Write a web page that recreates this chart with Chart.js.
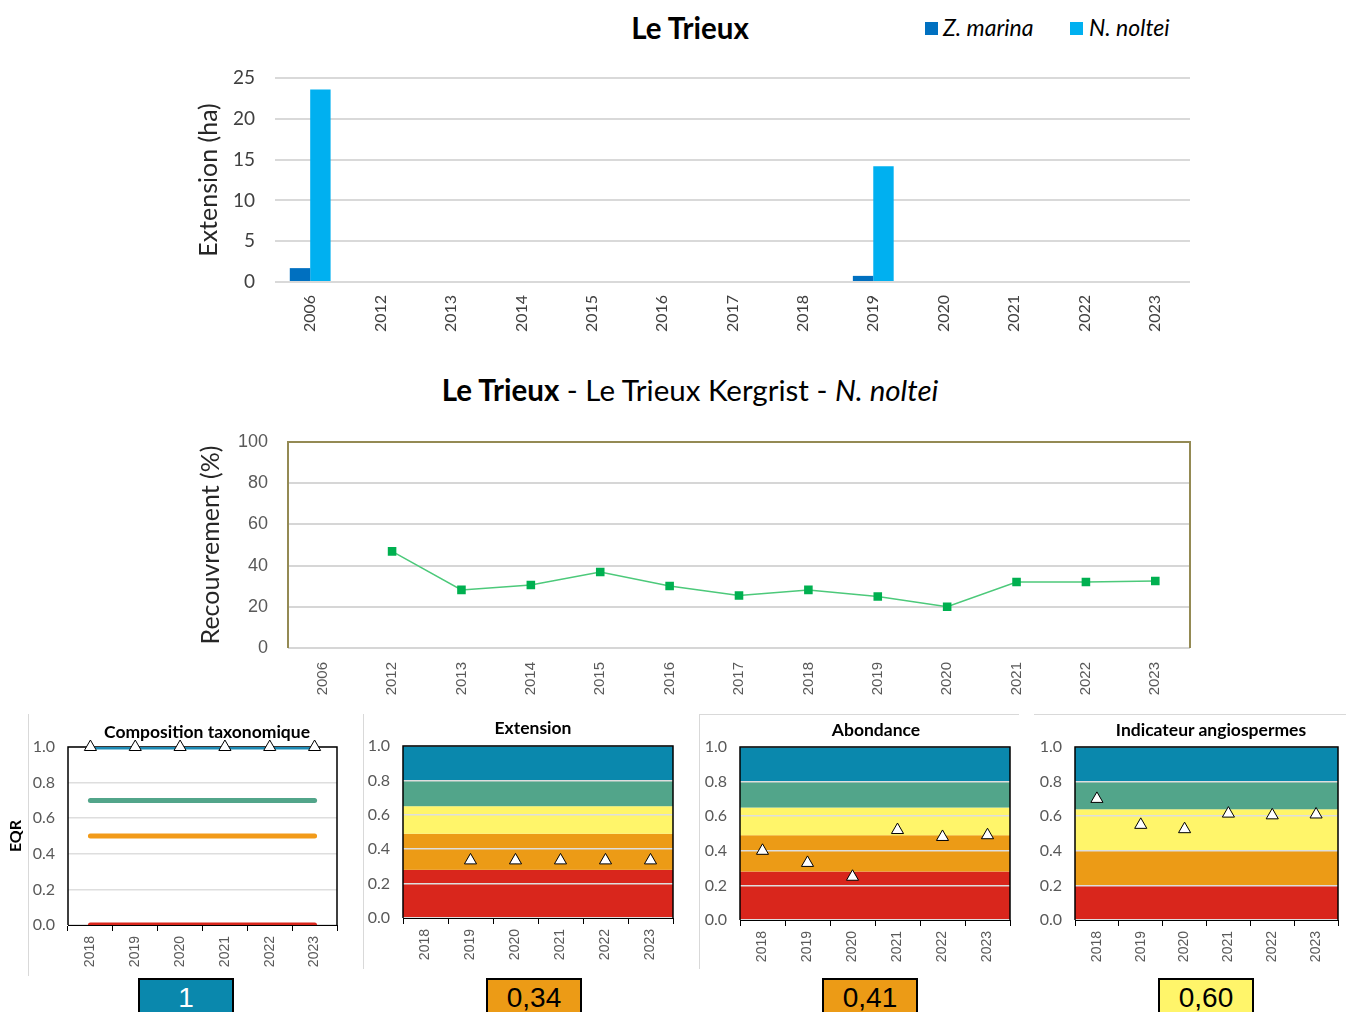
<!DOCTYPE html>
<html>
<head>
<meta charset="utf-8">
<script src="https://cdn.jsdelivr.net/npm/chart.js@4.4.1/dist/chart.umd.min.js"></script>
<style>
  body { margin: 0; width: 1346px; height: 1012px; overflow: hidden; position: relative; background: #fff; font-family: Lato, sans-serif; }
  canvas, .txt, .sep, .box, .sq { position: absolute; }
  .txt { white-space: nowrap; line-height: 1; color: #000; }
  .center { transform: translateX(-50%); }
  .sep { background: #d9d9d9; }
  .sq { width: 13px; height: 13px; }
  .box { width: 92px; height: 40px; border: 2px solid #000; font-family: "Liberation Sans", Arial, sans-serif; font-size: 28px; text-align: center; line-height: 36px; }
  .ptitle { font-weight: bold; font-size: 17.5px; }
</style>
</head>
<body>
<div class="txt center" style="left:690px;top:13px;font-size:29.5px;font-weight:bold;">Le Trieux</div>
<div class="sq" style="left:925px;top:22px;background:#0070c0;"></div>
<div class="txt" style="left:943px;top:16px;font-size:23px;font-style:italic;">Z. marina</div>
<div class="sq" style="left:1070px;top:22px;background:#00b0f0;"></div>
<div class="txt" style="left:1089px;top:16px;font-size:23px;font-style:italic;">N. noltei</div>
<canvas id="chart-ext" width="1010" height="290" style="left:190px;top:60px;"></canvas>

<div class="txt center" style="left:690px;top:375px;font-size:29.5px;"><b>Le Trieux</b> - Le Trieux Kergrist - <i>N. noltei</i></div>
<canvas id="chart-rec" width="1010" height="290" style="left:190px;top:420px;"></canvas>

<div class="sep" style="left:28px;top:714px;width:1px;height:262px;"></div>
<div class="sep" style="left:363px;top:714px;width:1px;height:255px;"></div>
<div class="sep" style="left:699px;top:714px;width:1px;height:255px;"></div>
<div class="sep" style="left:699px;top:714px;width:320px;height:1px;"></div>
<div class="sep" style="left:1034px;top:714px;width:312px;height:1px;"></div>

<canvas id="chart-comp" width="345" height="265" style="left:0px;top:715px;"></canvas>
<canvas id="chart-eext" width="320" height="265" style="left:363px;top:715px;"></canvas>
<canvas id="chart-abon" width="320" height="265" style="left:699px;top:715px;"></canvas>
<canvas id="chart-angio" width="312" height="265" style="left:1034px;top:715px;"></canvas>

<div class="txt center ptitle" style="left:207px;top:723px;">Composition taxonomique</div>
<div class="txt center ptitle" style="left:533px;top:719px;">Extension</div>
<div class="txt center ptitle" style="left:876px;top:721px;">Abondance</div>
<div class="txt center ptitle" style="left:1211px;top:721px;">Indicateur angiospermes</div>

<div class="box" style="left:138px;top:978px;background:#0a88ad;color:#fff;">1</div>
<div class="box" style="left:486px;top:978px;background:#ec9b16;">0,34</div>
<div class="box" style="left:822px;top:978px;background:#ec9b16;">0,41</div>
<div class="box" style="left:1158px;top:978px;background:#fff56a;">0,60</div>

<script>
const years = ["2006", "2012", "2013", "2014", "2015", "2016", "2017", "2018", "2019", "2020", "2021", "2022", "2023"];
const zMarina = [1.7, null, null, null, null, null, null, null, 0.75, null, null, null, null];
const nNoltei = [23.6, null, null, null, null, null, null, null, 14.2, null, null, null, null];
const recouvrement = [null, 46.9, 28.2, 30.6, 36.9, 30.1, 25.5, 28.2, 25.0, 20.0, 32.0, 32.0, 32.5];

const eqrYears = ["2018", "2019", "2020", "2021", "2022", "2023"];
const compositionEqr = [1, 1, 1, 1, 1, 1];
const compBlue = [1, 1, 1, 1, 1, 1];
const compGreen = [0.7, 0.7, 0.7, 0.7, 0.7, 0.7];
const compOrange = [0.5, 0.5, 0.5, 0.5, 0.5, 0.5];
const compRed = [0, 0, 0, 0, 0, 0];
const extensionEqr = [null, 0.335, 0.335, 0.335, 0.335, 0.335];
const abondanceEqr = [0.40, 0.33, 0.25, 0.52, 0.48, 0.49];
const angioEqr = [0.70, 0.55, 0.525, 0.615, 0.605, 0.61];

const bandColors = ["#d9261c", "#ec9b16", "#fff56a", "#52a58a", "#0a88ad"];
const extensionLimits = [0, 0.28, 0.49, 0.65, 0.8, 1];
const abondanceLimits = [0, 0.28, 0.49, 0.65, 0.8, 1];
const angioLimits = [0, 0.2, 0.4, 0.64, 0.8, 1];

Chart.defaults.font.family = "Lato";
Chart.defaults.color = "#595959";
Chart.defaults.animation = false;
Chart.defaults.plugins.legend.display = false;
Chart.defaults.plugins.tooltip.enabled = false;

// coloured quality classes behind the grid
const bands = {
  id: "bands",
  beforeDraw(chart, args, opts) {
    if (!opts.limits) return;
    const { ctx, chartArea } = chart;
    const y = chart.scales.y;
    ctx.save();
    for (let i = 0; i < opts.colors.length; i++) {
      const top = y.getPixelForValue(opts.limits[i + 1]);
      const bottom = y.getPixelForValue(opts.limits[i]);
      ctx.fillStyle = opts.colors[i];
      ctx.fillRect(chartArea.left, top, chartArea.right - chartArea.left, bottom - top);
    }
    ctx.restore();
  },
};

// left / top / right border of plot area
const frame = {
  id: "frame",
  beforeDatasetsDraw(chart, args, opts) {
    if (!opts.color) return;
    const { ctx, chartArea: a } = chart;
    ctx.save();
    ctx.strokeStyle = opts.color;
    ctx.lineWidth = opts.width || 1;
    ctx.beginPath();
    ctx.moveTo(a.left, a.bottom);
    ctx.lineTo(a.left, a.top);
    ctx.lineTo(a.right, a.top);
    ctx.lineTo(a.right, a.bottom);
    ctx.stroke();
    ctx.restore();
  },
};

// invisible tick marks give the gap between labels and plot
// (ticks.padding would also push the plot top down)
const hiddenTick = "rgba(0,0,0,0)";

new Chart(document.getElementById("chart-ext"), {
  type: "bar",
  data: {
    labels: years,
    datasets: [
      { label: "Z. marina", data: zMarina, backgroundColor: "#0070c0" },
      { label: "N. noltei", data: nNoltei, backgroundColor: "#00b0f0" },
    ],
  },
  options: {
    responsive: false,
    layout: { padding: { top: 18, right: 10, left: 0, bottom: 0 } },
    datasets: { bar: { categoryPercentage: 0.58, barPercentage: 1 } },
    scales: {
      x: {
        afterFit(scale) { scale.height = 68; },
        grid: { display: false },
        border: { display: false },
        ticks: { minRotation: 90, maxRotation: 90, padding: 5, color: "#404040", font: { size: 16 } },
      },
      y: {
        afterFit(scale) { scale.width = 85; },
        min: 0,
        max: 25,
        ticks: { stepSize: 5, padding: 2, color: "#404040", font: { size: 19 } },
        grid: { color: "#d9d9d9", lineWidth: 2, tickLength: 18, tickColor: hiddenTick },
        border: { display: false },
        title: { display: true, text: "Extension (ha)", color: "#262626", font: { size: 25 }, padding: { top: 4, bottom: 0 } },
      },
    },
  },
});

new Chart(document.getElementById("chart-rec"), {
  type: "line",
  data: {
    labels: years,
    datasets: [
      {
        label: "N. noltei",
        data: recouvrement,
        borderColor: "#4cc97a",
        borderWidth: 1.5,
        pointStyle: "rect",
        pointRadius: 5,
        pointBackgroundColor: "#00b050",
        pointBorderColor: "#00b050",
      },
    ],
  },
  options: {
    responsive: false,
    layout: { padding: { top: 22, right: 10, left: 0, bottom: 0 } },
    scales: {
      x: {
        offset: true,
        afterFit(scale) { scale.height = 62; },
        grid: { display: false },
        border: { display: false },
        ticks: { minRotation: 90, maxRotation: 90, padding: 6, font: { family: "Liberation Sans", size: 15 } },
      },
      y: {
        afterFit(scale) { scale.width = 98; },
        min: 0,
        max: 100,
        ticks: { stepSize: 20, padding: 2, font: { family: "Liberation Sans", size: 18 } },
        grid: { color: "#d6d6d6", lineWidth: 2, tickLength: 18, tickColor: hiddenTick },
        border: { display: false },
        title: { display: true, text: "Recouvrement (%)", color: "#262626", font: { size: 25 }, padding: { top: 6, bottom: 0 } },
      },
    },
    plugins: { frame: { color: "#948a54", width: 2 } },
  },
  plugins: [frame],
});

function triangles(values) {
  return {
    data: values,
    showLine: false,
    pointStyle: "triangle",
    pointRadius: 7,
    pointBackgroundColor: "#fff",
    pointBorderColor: "#000",
    pointBorderWidth: 1,
    clip: false,
    order: 0,
  };
}

function levelLine(values, color) {
  return {
    data: values,
    borderColor: color,
    borderWidth: 5,
    borderCapStyle: "round",
    pointRadius: 0,
    order: 1,
  };
}

function eqrChart(id, datasets, limits, fit) {
  return new Chart(document.getElementById(id), {
    type: "line",
    data: { labels: eqrYears, datasets: datasets },
    options: {
      responsive: false,
      layout: { padding: { top: fit.top, right: fit.right, left: 0, bottom: 0 } },
      scales: {
        x: {
          offset: true,
          afterFit(scale) { scale.height = fit.bottom; },
          grid: { offset: true, drawOnChartArea: false, color: "#000", tickLength: 6 },
          border: { color: "#000" },
          ticks: { minRotation: 90, maxRotation: 90, padding: 5, font: { family: "Liberation Sans", size: 14 } },
        },
        y: {
          afterFit(scale) { scale.width = fit.left; },
          min: 0,
          max: 1,
          ticks: { stepSize: 0.2, padding: 2, font: { size: 16 }, callback: (v) => v.toFixed(1) },
          grid: { color: "#dedede", lineWidth: 1.5, tickLength: 11, tickColor: hiddenTick },
          border: { display: false },
          title: { display: !!fit.title, text: fit.title, color: "#000", font: { size: 16, weight: "bold" }, padding: { top: 6, bottom: 0 } },
        },
      },
      plugins: {
        bands: { limits: limits, colors: bandColors },
        frame: { color: "#000", width: 1.5 },
      },
    },
    plugins: [bands, frame],
  });
}

eqrChart("chart-comp", [
  triangles(compositionEqr),
  levelLine(compBlue, "#1d8bb5"),
  levelLine(compGreen, "#52a58a"),
  levelLine(compOrange, "#f29b1a"),
  levelLine(compRed, "#d9261c"),
], null, { top: 32, right: 7, left: 68, bottom: 55, title: "EQR" });

eqrChart("chart-eext", [triangles(extensionEqr)], extensionLimits, { top: 31, right: 10, left: 40, bottom: 62 });
eqrChart("chart-abon", [triangles(abondanceEqr)], abondanceLimits, { top: 32, right: 9, left: 41, bottom: 60 });
eqrChart("chart-angio", [triangles(angioEqr)], angioLimits, { top: 32, right: 1, left: 41, bottom: 60 });
</script>
</body>
</html>
